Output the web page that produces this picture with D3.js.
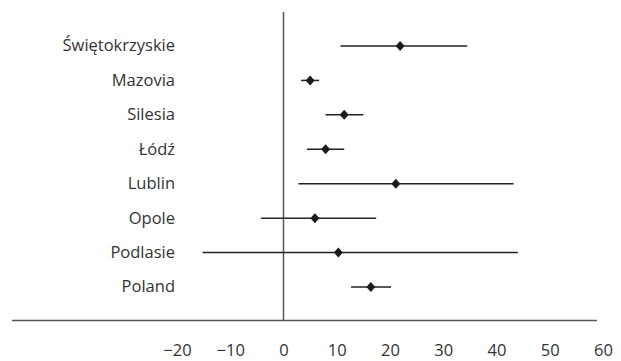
<!DOCTYPE html>
<html><head><meta charset="utf-8">
<script src="https://cdn.jsdelivr.net/npm/d3@7"></script>
<style>body{margin:0;background:#fff}svg{display:block}</style>
</head><body>
<svg id="c" width="621" height="361"></svg>
<script>
const regions = ["Świętokrzyskie","Mazovia","Silesia","Łódź","Lublin","Opole","Podlasie","Poland"];
const estimate = [21.9, 5.0, 11.4, 7.9, 21.1, 5.9, 10.3, 16.4];
const lower = [10.7, 3.3, 7.9, 4.4, 2.8, -4.2, -15.2, 12.7];
const upper = [34.5, 6.7, 15.0, 11.4, 43.2, 17.4, 44.0, 20.2];
const xTicks = [-20,-10,0,10,20,30,40,50,60];

const svg = d3.select("#c");
const font = "'Open Sans', sans-serif";
const x = d3.scaleLinear().domain([-20,60]).range([177,603]);
const y = d3.scalePoint().domain(regions).range([46, 287]);

// axis baseline
svg.append("line").attr("x1",12).attr("x2",597).attr("y1",320.5).attr("y2",320.5)
  .attr("stroke","#555").attr("stroke-width",1.5);
// zero reference line
svg.append("line").attr("x1",x(0)).attr("x2",x(0)).attr("y1",12).attr("y2",320.5)
  .attr("stroke","#555").attr("stroke-width",1.5);

// tick labels via axis
const ax = svg.append("g").attr("transform","translate(0,344)")
  .call(d3.axisBottom(x).tickValues(xTicks).tickSize(0).tickPadding(0).tickFormat(d => d < 0 ? "\u2212" + Math.abs(d) : d));
ax.select(".domain").remove();
ax.selectAll("text").attr("font-family",font).attr("font-size",16.5).attr("fill","#333");

// category labels
svg.append("g").selectAll("text").data(regions).join("text")
  .attr("x",175).attr("y",d=>y(d)).attr("dy","0.33em").attr("text-anchor","end")
  .attr("font-family",font).attr("font-size",16.5).attr("fill","#333").text(d=>d);

const rows = regions.map((r,i)=>({r, est:estimate[i], lo:lower[i], hi:upper[i]}));
svg.append("g").selectAll("line").data(rows).join("line")
  .attr("x1",d=>x(d.lo)).attr("x2",d=>x(d.hi)).attr("y1",d=>y(d.r)).attr("y2",d=>y(d.r))
  .attr("stroke","#222").attr("stroke-width",1.5);
svg.append("g").selectAll("path").data(rows).join("path")
  .attr("transform",d=>`translate(${x(d.est)},${y(d.r)})`)
  .attr("d","M0,-5L4.5,0L0,5L-4.5,0Z").attr("fill","#1a1a1a");
</script>
</body></html>
